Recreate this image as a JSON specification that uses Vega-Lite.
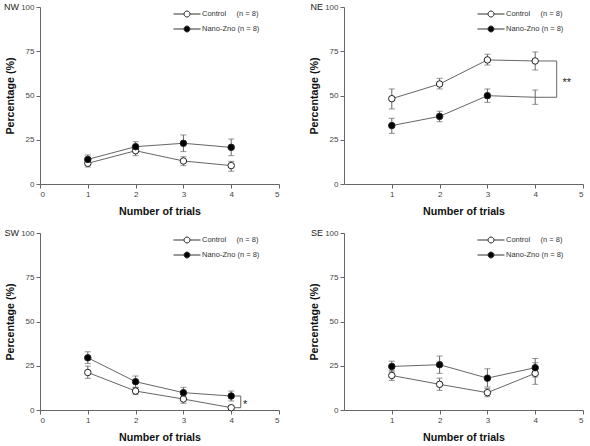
{
  "$schema": "https://vega.github.io/schema/vega-lite/v6.json",
  "padding": {"left": 4, "top": 3, "right": 0, "bottom": 0},
  "config": {
    "font": "Liberation Sans",
    "view": {"stroke": null},
    "axis": {"grid": false, "domainColor": "#666", "tickColor": "#666", "labelColor": "#444", "labelFontSize": 8, "tickSize": 4, "labelPadding": 2, "titleFontSize": 10.7, "titleFontWeight": "bold", "titleColor": "#111"},
    "axisX": {"titlePadding": 8},
    "axisY": {"titlePadding": 5},
    "legend": {
      "title": null, "orient": "none", "legendX": 133, "legendY": 2, "padding": 0,
      "labelFontSize": 7.5, "labelColor": "#333", "labelOffset": 19, "rowPadding": 3,
      "symbolType": "M-1,0L1.333,0M2.667,0L5,0M1.333,0A0.667,0.667,0,1,0,2.667,0A0.667,0.667,0,1,0,1.333,0Z",
      "symbolSize": 81, "symbolStrokeWidth": 1, "symbolStrokeColor": "#333"
    }
  },
  "datasets": {
    "d": [
      {"panel": "NW", "group": "Control", "trial": 1, "mean": 11.7, "lo": 9.6, "hi": 13.4},
      {"panel": "NW", "group": "Control", "trial": 2, "mean": 18.8, "lo": 16.0, "hi": 20.9},
      {"panel": "NW", "group": "Control", "trial": 3, "mean": 13.0, "lo": 10.4, "hi": 15.4},
      {"panel": "NW", "group": "Control", "trial": 4, "mean": 10.4, "lo": 7.2, "hi": 12.8},
      {"panel": "NW", "group": "Nano-Zno", "trial": 1, "mean": 13.9, "lo": 11.7, "hi": 16.4},
      {"panel": "NW", "group": "Nano-Zno", "trial": 2, "mean": 21.1, "lo": 18.3, "hi": 23.9},
      {"panel": "NW", "group": "Nano-Zno", "trial": 3, "mean": 23.0, "lo": 18.3, "hi": 27.7},
      {"panel": "NW", "group": "Nano-Zno", "trial": 4, "mean": 20.7, "lo": 16.0, "hi": 25.4},
      {"panel": "NE", "group": "Control", "trial": 1, "mean": 48.2, "lo": 42.4, "hi": 53.7},
      {"panel": "NE", "group": "Control", "trial": 2, "mean": 56.5, "lo": 53.7, "hi": 59.7},
      {"panel": "NE", "group": "Control", "trial": 3, "mean": 70.1, "lo": 67.2, "hi": 73.3},
      {"panel": "NE", "group": "Control", "trial": 4, "mean": 69.5, "lo": 64.4, "hi": 74.6},
      {"panel": "NE", "group": "Nano-Zno", "trial": 1, "mean": 33.0, "lo": 28.6, "hi": 37.1},
      {"panel": "NE", "group": "Nano-Zno", "trial": 2, "mean": 38.2, "lo": 35.2, "hi": 41.1},
      {"panel": "NE", "group": "Nano-Zno", "trial": 3, "mean": 49.9, "lo": 46.1, "hi": 53.7},
      {"panel": "NE", "group": "Nano-Zno", "trial": 4, "mean": 49.0, "lo": 45.0, "hi": 53.1},
      {"panel": "SW", "group": "Control", "trial": 1, "mean": 21.2, "lo": 17.9, "hi": 24.8},
      {"panel": "SW", "group": "Control", "trial": 2, "mean": 10.7, "lo": 8.8, "hi": 12.8},
      {"panel": "SW", "group": "Control", "trial": 3, "mean": 6.2, "lo": 3.8, "hi": 8.5},
      {"panel": "SW", "group": "Control", "trial": 4, "mean": 1.3, "lo": 0.4, "hi": 2.3},
      {"panel": "SW", "group": "Nano-Zno", "trial": 1, "mean": 29.5, "lo": 26.3, "hi": 32.9},
      {"panel": "SW", "group": "Nano-Zno", "trial": 2, "mean": 16.0, "lo": 12.8, "hi": 19.2},
      {"panel": "SW", "group": "Nano-Zno", "trial": 3, "mean": 9.8, "lo": 6.6, "hi": 12.8},
      {"panel": "SW", "group": "Nano-Zno", "trial": 4, "mean": 7.9, "lo": 5.1, "hi": 10.7},
      {"panel": "SE", "group": "Control", "trial": 1, "mean": 19.5, "lo": 16.7, "hi": 22.4},
      {"panel": "SE", "group": "Control", "trial": 2, "mean": 14.5, "lo": 11.1, "hi": 18.0},
      {"panel": "SE", "group": "Control", "trial": 3, "mean": 9.8, "lo": 7.5, "hi": 12.2},
      {"panel": "SE", "group": "Control", "trial": 4, "mean": 20.7, "lo": 14.5, "hi": 26.7},
      {"panel": "SE", "group": "Nano-Zno", "trial": 1, "mean": 24.6, "lo": 21.6, "hi": 27.6},
      {"panel": "SE", "group": "Nano-Zno", "trial": 2, "mean": 25.6, "lo": 20.7, "hi": 30.5},
      {"panel": "SE", "group": "Nano-Zno", "trial": 3, "mean": 18.0, "lo": 13.0, "hi": 23.3},
      {"panel": "SE", "group": "Nano-Zno", "trial": 4, "mean": 23.9, "lo": 18.6, "hi": 29.1}
    ],
    "brackets": [
      {"panel": "NE", "x": 4.07, "x2": 4.45, "y": 69.5, "y2": 69.5},
      {"panel": "NE", "x": 4.45, "x2": 4.45, "y": 49.0, "y2": 69.5},
      {"panel": "NE", "x": 4.0, "x2": 4.45, "y": 49.0, "y2": 49.0},
      {"panel": "SW", "x": 4.07, "x2": 4.2, "y": 1.3, "y2": 1.3},
      {"panel": "SW", "x": 4.2, "x2": 4.2, "y": 1.3, "y2": 7.9},
      {"panel": "SW", "x": 4.07, "x2": 4.2, "y": 7.9, "y2": 7.9}
    ],
    "stars": [
      {"panel": "NE", "x": 4.66, "y": 57.0, "text": "**"},
      {"panel": "SW", "x": 4.29, "y": 3.0, "text": "*"}
    ],
    "labels": [
      {"panel": "NW", "label": "NW", "x": 0, "y": 100},
      {"panel": "NE", "label": "NE", "x": 0, "y": 100},
      {"panel": "SW", "label": "SW", "x": 0, "y": 100},
      {"panel": "SE", "label": "SE", "x": 0, "y": 100}
    ]
  },
  "columns": 2,
  "bounds": "flush",
  "spacing": {"row": 49, "column": 65},
  "resolve": {"scale": {"fill": "independent"}, "legend": {"fill": "independent"}},
  "concat": [
    {
      "width": 239, "height": 177,
      "data": {"name": "d"},
      "transform": [{"filter": "datum.panel == 'NW'"}],
      "encoding": {
        "x": {"field": "trial", "type": "quantitative", "scale": {"domain": [0, 5], "nice": false}, "axis": {"values": [0, 1, 2, 3, 4, 5], "format": "d", "title": "Number of trials"}},
        "y": {"field": "mean", "type": "quantitative", "scale": {"domain": [0, 100], "nice": false}, "axis": {"values": [0, 25, 50, 75, 100], "title": "Percentage (%)"}}
      },
      "layer": [
        {"mark": {"type": "rule", "color": "#666", "strokeWidth": 1}, "encoding": {"y": {"field": "lo", "type": "quantitative"}, "y2": {"field": "hi"}, "detail": {"field": "group"}}},
        {"mark": {"type": "tick", "orient": "horizontal", "color": "#666", "size": 6, "thickness": 1}, "encoding": {"y": {"field": "lo", "type": "quantitative"}}},
        {"mark": {"type": "tick", "orient": "horizontal", "color": "#666", "size": 6, "thickness": 1}, "encoding": {"y": {"field": "hi", "type": "quantitative"}}},
        {"mark": {"type": "line", "color": "#666", "strokeWidth": 1}, "encoding": {"detail": {"field": "group"}}},
        {"mark": {"type": "point", "filled": true, "stroke": "#222", "strokeWidth": 1, "opacity": 1, "size": 42}, "encoding": {"fill": {"field": "group", "type": "nominal", "scale": {"domain": ["Control", "Nano-Zno"], "range": ["white", "black"]}, "legend": {"labelExpr": "datum.label == 'Control' ? 'Control\u00a0\u00a0\u00a0\u00a0\u00a0(n = 8)' : 'Nano-Zno (n = 8)'"}}}},
        {"data": {"name": "labels"}, "transform": [{"filter": "datum.panel == 'NW'"}], "mark": {"type": "text", "align": "right", "baseline": "middle", "dx": -21, "fontSize": 9, "color": "#222"}, "encoding": {"x": {"field": "x", "type": "quantitative"}, "y": {"field": "y", "type": "quantitative"}, "text": {"field": "label"}}}
      ]
    },
    {
      "width": 239, "height": 177,
      "data": {"name": "d"},
      "transform": [{"filter": "datum.panel == 'NE'"}],
      "encoding": {
        "x": {"field": "trial", "type": "quantitative", "scale": {"domain": [0, 5], "nice": false}, "axis": {"values": [1, 2, 3, 4, 5], "format": "d", "title": "Number of trials"}},
        "y": {"field": "mean", "type": "quantitative", "scale": {"domain": [0, 100], "nice": false}, "axis": {"values": [0, 25, 50, 75, 100], "title": "Percentage (%)"}}
      },
      "layer": [
        {"mark": {"type": "rule", "color": "#666", "strokeWidth": 1}, "encoding": {"y": {"field": "lo", "type": "quantitative"}, "y2": {"field": "hi"}, "detail": {"field": "group"}}},
        {"mark": {"type": "tick", "orient": "horizontal", "color": "#666", "size": 6, "thickness": 1}, "encoding": {"y": {"field": "lo", "type": "quantitative"}}},
        {"mark": {"type": "tick", "orient": "horizontal", "color": "#666", "size": 6, "thickness": 1}, "encoding": {"y": {"field": "hi", "type": "quantitative"}}},
        {"mark": {"type": "line", "color": "#666", "strokeWidth": 1}, "encoding": {"detail": {"field": "group"}}},
        {"transform": [{"filter": "!(datum.group == 'Nano-Zno' && datum.trial == 4)"}], "mark": {"type": "point", "filled": true, "stroke": "#222", "strokeWidth": 1, "opacity": 1, "size": 42}, "encoding": {"fill": {"field": "group", "type": "nominal", "scale": {"domain": ["Control", "Nano-Zno"], "range": ["white", "black"]}, "legend": {"labelExpr": "datum.label == 'Control' ? 'Control\u00a0\u00a0\u00a0\u00a0\u00a0(n = 8)' : 'Nano-Zno (n = 8)'"}}}},
        {"data": {"name": "brackets"}, "transform": [{"filter": "datum.panel == 'NE'"}], "mark": {"type": "rule", "color": "#666", "strokeWidth": 1}, "encoding": {"x": {"field": "x", "type": "quantitative"}, "x2": {"field": "x2"}, "y": {"field": "y", "type": "quantitative"}, "y2": {"field": "y2"}}},
        {"data": {"name": "stars"}, "transform": [{"filter": "datum.panel == 'NE'"}], "mark": {"type": "text", "align": "center", "baseline": "middle", "fontSize": 11, "color": "#222"}, "encoding": {"x": {"field": "x", "type": "quantitative"}, "y": {"field": "y", "type": "quantitative"}, "text": {"field": "text"}}},
        {"data": {"name": "labels"}, "transform": [{"filter": "datum.panel == 'NE'"}], "mark": {"type": "text", "align": "right", "baseline": "middle", "dx": -21, "fontSize": 9, "color": "#222"}, "encoding": {"x": {"field": "x", "type": "quantitative"}, "y": {"field": "y", "type": "quantitative"}, "text": {"field": "label"}}}
      ]
    },
    {
      "width": 239, "height": 177,
      "data": {"name": "d"},
      "transform": [{"filter": "datum.panel == 'SW'"}],
      "encoding": {
        "x": {"field": "trial", "type": "quantitative", "scale": {"domain": [0, 5], "nice": false}, "axis": {"values": [0, 1, 2, 3, 4, 5], "format": "d", "title": "Number of trials"}},
        "y": {"field": "mean", "type": "quantitative", "scale": {"domain": [0, 100], "nice": false}, "axis": {"values": [0, 25, 50, 75, 100], "title": "Percentage (%)"}}
      },
      "layer": [
        {"mark": {"type": "rule", "color": "#666", "strokeWidth": 1}, "encoding": {"y": {"field": "lo", "type": "quantitative"}, "y2": {"field": "hi"}, "detail": {"field": "group"}}},
        {"mark": {"type": "tick", "orient": "horizontal", "color": "#666", "size": 6, "thickness": 1}, "encoding": {"y": {"field": "lo", "type": "quantitative"}}},
        {"mark": {"type": "tick", "orient": "horizontal", "color": "#666", "size": 6, "thickness": 1}, "encoding": {"y": {"field": "hi", "type": "quantitative"}}},
        {"mark": {"type": "line", "color": "#666", "strokeWidth": 1}, "encoding": {"detail": {"field": "group"}}},
        {"mark": {"type": "point", "filled": true, "stroke": "#222", "strokeWidth": 1, "opacity": 1, "size": 42}, "encoding": {"fill": {"field": "group", "type": "nominal", "scale": {"domain": ["Control", "Nano-Zno"], "range": ["white", "black"]}, "legend": {"labelExpr": "datum.label == 'Control' ? 'Control\u00a0\u00a0\u00a0\u00a0\u00a0(n = 8)' : 'Nano-Zno (n = 8)'"}}}},
        {"data": {"name": "brackets"}, "transform": [{"filter": "datum.panel == 'SW'"}], "mark": {"type": "rule", "color": "#666", "strokeWidth": 1}, "encoding": {"x": {"field": "x", "type": "quantitative"}, "x2": {"field": "x2"}, "y": {"field": "y", "type": "quantitative"}, "y2": {"field": "y2"}}},
        {"data": {"name": "stars"}, "transform": [{"filter": "datum.panel == 'SW'"}], "mark": {"type": "text", "align": "center", "baseline": "middle", "fontSize": 11, "color": "#222"}, "encoding": {"x": {"field": "x", "type": "quantitative"}, "y": {"field": "y", "type": "quantitative"}, "text": {"field": "text"}}},
        {"data": {"name": "labels"}, "transform": [{"filter": "datum.panel == 'SW'"}], "mark": {"type": "text", "align": "right", "baseline": "middle", "dx": -21, "fontSize": 9, "color": "#222"}, "encoding": {"x": {"field": "x", "type": "quantitative"}, "y": {"field": "y", "type": "quantitative"}, "text": {"field": "label"}}}
      ]
    },
    {
      "width": 239, "height": 177,
      "data": {"name": "d"},
      "transform": [{"filter": "datum.panel == 'SE'"}],
      "encoding": {
        "x": {"field": "trial", "type": "quantitative", "scale": {"domain": [0, 5], "nice": false}, "axis": {"values": [1, 2, 3, 4, 5], "format": "d", "title": "Number of trials"}},
        "y": {"field": "mean", "type": "quantitative", "scale": {"domain": [0, 100], "nice": false}, "axis": {"values": [0, 25, 50, 75, 100], "title": "Percentage (%)"}}
      },
      "layer": [
        {"mark": {"type": "rule", "color": "#666", "strokeWidth": 1}, "encoding": {"y": {"field": "lo", "type": "quantitative"}, "y2": {"field": "hi"}, "detail": {"field": "group"}}},
        {"mark": {"type": "tick", "orient": "horizontal", "color": "#666", "size": 6, "thickness": 1}, "encoding": {"y": {"field": "lo", "type": "quantitative"}}},
        {"mark": {"type": "tick", "orient": "horizontal", "color": "#666", "size": 6, "thickness": 1}, "encoding": {"y": {"field": "hi", "type": "quantitative"}}},
        {"mark": {"type": "line", "color": "#666", "strokeWidth": 1}, "encoding": {"detail": {"field": "group"}}},
        {"mark": {"type": "point", "filled": true, "stroke": "#222", "strokeWidth": 1, "opacity": 1, "size": 42}, "encoding": {"fill": {"field": "group", "type": "nominal", "scale": {"domain": ["Control", "Nano-Zno"], "range": ["white", "black"]}, "legend": {"labelExpr": "datum.label == 'Control' ? 'Control\u00a0\u00a0\u00a0\u00a0\u00a0(n = 8)' : 'Nano-Zno (n = 8)'"}}}},
        {"data": {"name": "labels"}, "transform": [{"filter": "datum.panel == 'SE'"}], "mark": {"type": "text", "align": "right", "baseline": "middle", "dx": -21, "fontSize": 9, "color": "#222"}, "encoding": {"x": {"field": "x", "type": "quantitative"}, "y": {"field": "y", "type": "quantitative"}, "text": {"field": "label"}}}
      ]
    }
  ]
}
